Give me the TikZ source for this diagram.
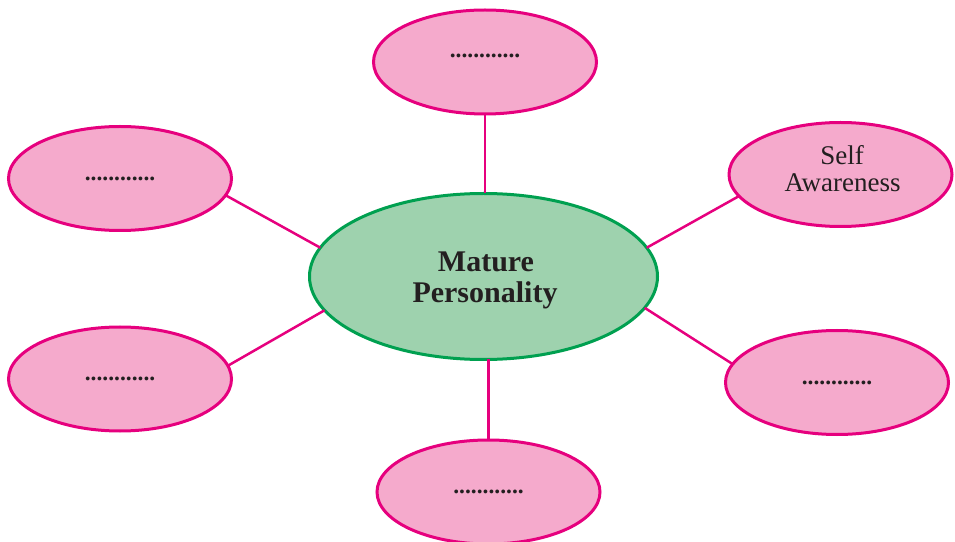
\documentclass[tikz,border=0pt]{standalone}
\usepackage{fontspec}
\setmainfont{Liberation Serif}
\usetikzlibrary{shapes.geometric}
\definecolor{pinkfill}{RGB}{245,170,204}
\definecolor{pinkline}{RGB}{230,0,126}
\definecolor{greenfill}{RGB}{158,210,174}
\definecolor{greenline}{RGB}{0,160,80}
\definecolor{txt}{RGB}{35,31,32}
\tikzset{
  leaf/.style={ellipse, draw=pinkline, fill=pinkfill, line width=3pt,
    minimum width=223pt, minimum height=104pt, inner sep=0pt, outer sep=0pt,
    text=txt, align=center},
  hub/.style={ellipse, draw=greenline, fill=greenfill, line width=3pt,
    minimum width=348pt, minimum height=166pt, inner sep=0pt, outer sep=0pt},
  conn/.style={draw=pinkline, line width=2.5pt},
  dotsfont/.style={font=\fontsize{23.5pt}{25pt}\selectfont\bfseries},
  hubtext/.style={anchor=base, inner sep=0pt, text=txt, font=\fontsize{30pt}{31pt}\selectfont\bfseries},
  leaftext/.style={anchor=base, inner sep=0pt, text=txt, font=\fontsize{27pt}{27pt}\selectfont}
}
\begin{document}
\begin{tikzpicture}[x=1pt,y=1pt]
\useasboundingbox (0,0) rectangle (955,541);
\node[hub] (c) at (483.5,264.5) {};
\node[hubtext] (c1) at (486,269) {Mature};
\node[hubtext] (c2) at (485,238) {Personality};
\node[leaf, dotsfont, text depth=12pt] (top) at (485,479) {............};
\node[leaf, dotsfont] (tl) at (120,362.5) {............};
\node[leaf] (r) at (840.5,366.5) {};
\node[leaftext] (r1) at (842,376) {Self};
\node[leaftext] (r2) at (842.5,349) {Awareness};
\node[leaf, dotsfont] (bl) at (120,162) {............};
\node[leaf, dotsfont] (br) at (837,158.5) {............};
\node[leaf, dotsfont] (bot) at (488.5,49) {............};
\draw[conn] (top.south) -- (top.south |- c.north);
\draw[conn] (bot.north) -- (bot.north |- c.south);
\draw[conn] (tl.-9) -- (c.170.6);
\draw[conn] (r.-168.9) -- (c.10.2);
\draw[conn] (bl.7.1) -- (c.-168);
\draw[conn] (br.170.5) -- (c.-11.8);
\end{tikzpicture}
\end{document}
